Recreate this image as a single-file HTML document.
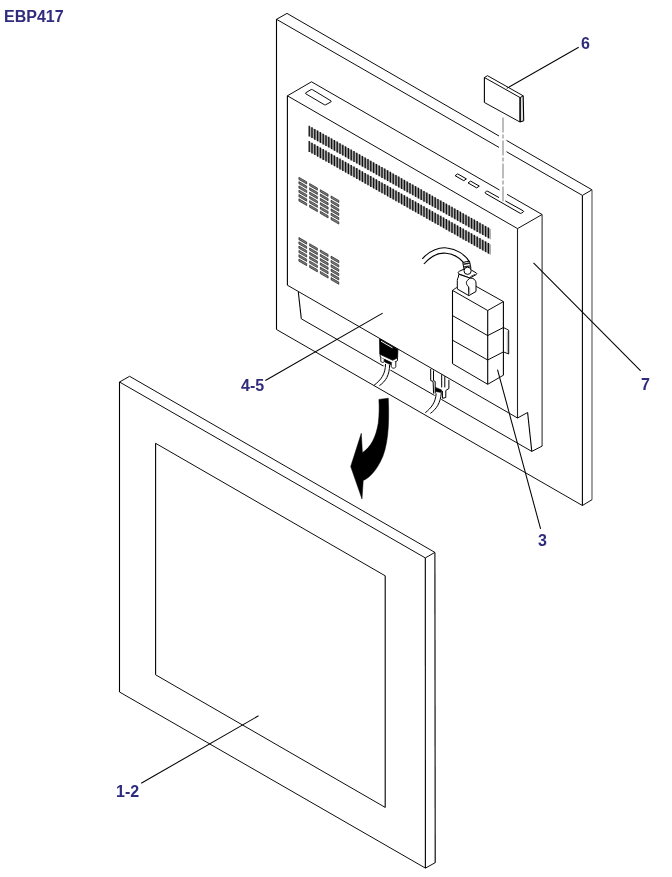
<!DOCTYPE html>
<html><head><meta charset="utf-8"><style>
html,body{margin:0;padding:0;background:#fff;}
body{width:672px;height:877px;position:relative;overflow:hidden;font-family:"Liberation Sans",sans-serif;}
svg{position:absolute;left:0;top:0;}
.lbl{position:absolute;font-weight:bold;font-size:16px;line-height:16px;color:#2f2b7d;white-space:nowrap;will-change:transform;}
</style></head><body>
<svg width="672" height="877" viewBox="0 0 672 877" stroke-linecap="butt">
<line x1="276.5" y1="19.3" x2="499.0" y2="147.4" stroke="#000" stroke-width="0.95" />
<line x1="506.5" y1="151.7" x2="582.4" y2="195.4" stroke="#000" stroke-width="0.95" />
<line x1="287.0" y1="13.4" x2="499.0" y2="136.0" stroke="#000" stroke-width="0.95" />
<line x1="506.5" y1="140.4" x2="592.0" y2="189.8" stroke="#000" stroke-width="0.95" />
<line x1="276.5" y1="19.3" x2="287.0" y2="13.4" stroke="#000" stroke-width="0.96" />
<line x1="582.4" y1="195.4" x2="592.0" y2="189.8" stroke="#000" stroke-width="0.95" />
<line x1="276.5" y1="19.3" x2="276.5" y2="329.5" stroke="#000" stroke-width="1.10" />
<line x1="582.4" y1="195.4" x2="582.4" y2="505.5" stroke="#000" stroke-width="1.10" />
<line x1="592.0" y1="189.8" x2="592.0" y2="499.7" stroke="#555" stroke-width="1.10" />
<line x1="582.4" y1="505.5" x2="592.0" y2="499.7" stroke="#000" stroke-width="0.94" />
<line x1="276.5" y1="329.5" x2="582.4" y2="505.5" stroke="#000" stroke-width="0.95" />
<line x1="287.4" y1="95.8" x2="517.5" y2="228.6" stroke="#000" stroke-width="0.95" />
<line x1="311.5" y1="81.8" x2="499.5" y2="190.0" stroke="#000" stroke-width="0.95" />
<line x1="507.0" y1="194.3" x2="542.1" y2="214.5" stroke="#000" stroke-width="0.95" />
<line x1="287.4" y1="95.8" x2="311.5" y2="81.8" stroke="#000" stroke-width="0.95" />
<line x1="517.5" y1="228.6" x2="542.1" y2="214.5" stroke="#000" stroke-width="0.95" />
<line x1="287.4" y1="95.8" x2="287.4" y2="285.2" stroke="#000" stroke-width="1.10" />
<line x1="517.5" y1="228.6" x2="517.5" y2="418.0" stroke="#222" stroke-width="1.10" />
<line x1="542.1" y1="214.5" x2="542.1" y2="446.0" stroke="#333" stroke-width="1.10" />
<line x1="287.4" y1="285.2" x2="517.5" y2="418.0" stroke="#000" stroke-width="0.95" />
<line x1="298.3" y1="292.0" x2="301.3" y2="318.8" stroke="#000" stroke-width="1.09" />
<line x1="301.3" y1="318.8" x2="531.8" y2="451.4" stroke="#000" stroke-width="0.95" />
<line x1="531.8" y1="451.4" x2="542.3" y2="446.0" stroke="#000" stroke-width="0.98" />
<line x1="517.5" y1="418.0" x2="527.6" y2="412.5" stroke="#000" stroke-width="0.97" />
<line x1="527.6" y1="412.5" x2="531.8" y2="451.4" stroke="#000" stroke-width="1.09" />
<path d="M305.6,92.9 L311.0,89.6 Q311.8,89.2 312.5,89.7 L331.0,100.9 Q331.5,101.5 330.8,102.0 L325.6,104.8 Q325.0,105.1 324.3,104.7 L305.8,93.8 Q305.2,93.3 305.6,92.9 Z" stroke="#000" stroke-width="0.95" fill="none" stroke-linejoin="round" />
<path d="M455.1,175.7 L457.7,173.9 L466.4,178.9 L463.8,180.7 Z" stroke="#000" stroke-width="1.0" fill="none" stroke-linejoin="round" />
<path d="M468.0,182.9 L470.6,181.1 L479.3,186.1 L476.7,187.9 Z" stroke="#000" stroke-width="1.0" fill="none" stroke-linejoin="round" />
<path d="M499.0,197.6 L487.8,191.3 Q487.0,190.9 486.3,191.4 L485.3,192.2 Q484.8,192.9 485.5,193.4 L520.2,213.3 Q520.8,213.6 521.4,213.2 L523.3,211.9 Q524.0,211.3 523.2,210.8 L505.3,200.9" stroke="#000" stroke-width="1.0" fill="none" stroke-linejoin="round" />
<polygon points="309.2,126.0 491.0,229.3 491.0,239.5 309.2,136.2" stroke="none" fill="#b0b0b0"/>
<line x1="309.2" y1="125.7" x2="309.2" y2="136.5" stroke="#111" stroke-width="1.35" />
<line x1="312.0" y1="127.3" x2="312.0" y2="138.1" stroke="#111" stroke-width="1.35" />
<line x1="314.8" y1="128.9" x2="314.8" y2="139.7" stroke="#111" stroke-width="1.35" />
<line x1="317.6" y1="130.5" x2="317.6" y2="141.3" stroke="#111" stroke-width="1.35" />
<line x1="320.4" y1="132.1" x2="320.4" y2="142.9" stroke="#111" stroke-width="1.35" />
<line x1="323.2" y1="133.7" x2="323.2" y2="144.5" stroke="#111" stroke-width="1.35" />
<line x1="326.0" y1="135.2" x2="326.0" y2="146.0" stroke="#111" stroke-width="1.35" />
<line x1="328.8" y1="136.8" x2="328.8" y2="147.6" stroke="#111" stroke-width="1.35" />
<line x1="331.6" y1="138.4" x2="331.6" y2="149.2" stroke="#111" stroke-width="1.35" />
<line x1="334.4" y1="140.0" x2="334.4" y2="150.8" stroke="#111" stroke-width="1.35" />
<line x1="337.2" y1="141.6" x2="337.2" y2="152.4" stroke="#111" stroke-width="1.35" />
<line x1="340.0" y1="143.2" x2="340.0" y2="154.0" stroke="#111" stroke-width="1.35" />
<line x1="342.8" y1="144.8" x2="342.8" y2="155.6" stroke="#111" stroke-width="1.35" />
<line x1="345.6" y1="146.4" x2="345.6" y2="157.2" stroke="#111" stroke-width="1.35" />
<line x1="348.4" y1="148.0" x2="348.4" y2="158.8" stroke="#111" stroke-width="1.35" />
<line x1="351.2" y1="149.6" x2="351.2" y2="160.4" stroke="#111" stroke-width="1.35" />
<line x1="354.0" y1="151.1" x2="354.0" y2="161.9" stroke="#111" stroke-width="1.35" />
<line x1="356.8" y1="152.7" x2="356.8" y2="163.5" stroke="#111" stroke-width="1.35" />
<line x1="359.6" y1="154.3" x2="359.6" y2="165.1" stroke="#111" stroke-width="1.35" />
<line x1="362.4" y1="155.9" x2="362.4" y2="166.7" stroke="#111" stroke-width="1.35" />
<line x1="365.2" y1="157.5" x2="365.2" y2="168.3" stroke="#111" stroke-width="1.35" />
<line x1="368.0" y1="159.1" x2="368.0" y2="169.9" stroke="#111" stroke-width="1.35" />
<line x1="370.8" y1="160.7" x2="370.8" y2="171.5" stroke="#111" stroke-width="1.35" />
<line x1="373.6" y1="162.3" x2="373.6" y2="173.1" stroke="#111" stroke-width="1.35" />
<line x1="376.4" y1="163.9" x2="376.4" y2="174.7" stroke="#111" stroke-width="1.35" />
<line x1="379.2" y1="165.5" x2="379.2" y2="176.3" stroke="#111" stroke-width="1.35" />
<line x1="382.0" y1="167.1" x2="382.0" y2="177.9" stroke="#111" stroke-width="1.35" />
<line x1="384.8" y1="168.6" x2="384.8" y2="179.4" stroke="#111" stroke-width="1.35" />
<line x1="387.6" y1="170.2" x2="387.6" y2="181.0" stroke="#111" stroke-width="1.35" />
<line x1="390.4" y1="171.8" x2="390.4" y2="182.6" stroke="#111" stroke-width="1.35" />
<line x1="393.2" y1="173.4" x2="393.2" y2="184.2" stroke="#111" stroke-width="1.35" />
<line x1="396.0" y1="175.0" x2="396.0" y2="185.8" stroke="#111" stroke-width="1.35" />
<line x1="398.8" y1="176.6" x2="398.8" y2="187.4" stroke="#111" stroke-width="1.35" />
<line x1="401.6" y1="178.2" x2="401.6" y2="189.0" stroke="#111" stroke-width="1.35" />
<line x1="404.4" y1="179.8" x2="404.4" y2="190.6" stroke="#111" stroke-width="1.35" />
<line x1="407.2" y1="181.4" x2="407.2" y2="192.2" stroke="#111" stroke-width="1.35" />
<line x1="410.0" y1="183.0" x2="410.0" y2="193.8" stroke="#111" stroke-width="1.35" />
<line x1="412.8" y1="184.5" x2="412.8" y2="195.3" stroke="#111" stroke-width="1.35" />
<line x1="415.6" y1="186.1" x2="415.6" y2="196.9" stroke="#111" stroke-width="1.35" />
<line x1="418.4" y1="187.7" x2="418.4" y2="198.5" stroke="#111" stroke-width="1.35" />
<line x1="421.2" y1="189.3" x2="421.2" y2="200.1" stroke="#111" stroke-width="1.35" />
<line x1="424.0" y1="190.9" x2="424.0" y2="201.7" stroke="#111" stroke-width="1.35" />
<line x1="426.8" y1="192.5" x2="426.8" y2="203.3" stroke="#111" stroke-width="1.35" />
<line x1="429.6" y1="194.1" x2="429.6" y2="204.9" stroke="#111" stroke-width="1.35" />
<line x1="432.4" y1="195.7" x2="432.4" y2="206.5" stroke="#111" stroke-width="1.35" />
<line x1="435.2" y1="197.3" x2="435.2" y2="208.1" stroke="#111" stroke-width="1.35" />
<line x1="438.0" y1="198.9" x2="438.0" y2="209.7" stroke="#111" stroke-width="1.35" />
<line x1="440.8" y1="200.4" x2="440.8" y2="211.2" stroke="#111" stroke-width="1.35" />
<line x1="443.6" y1="202.0" x2="443.6" y2="212.8" stroke="#111" stroke-width="1.35" />
<line x1="446.4" y1="203.6" x2="446.4" y2="214.4" stroke="#111" stroke-width="1.35" />
<line x1="449.2" y1="205.2" x2="449.2" y2="216.0" stroke="#111" stroke-width="1.35" />
<line x1="452.0" y1="206.8" x2="452.0" y2="217.6" stroke="#111" stroke-width="1.35" />
<line x1="454.8" y1="208.4" x2="454.8" y2="219.2" stroke="#111" stroke-width="1.35" />
<line x1="457.6" y1="210.0" x2="457.6" y2="220.8" stroke="#111" stroke-width="1.35" />
<line x1="460.4" y1="211.6" x2="460.4" y2="222.4" stroke="#111" stroke-width="1.35" />
<line x1="463.2" y1="213.2" x2="463.2" y2="224.0" stroke="#111" stroke-width="1.35" />
<line x1="466.0" y1="214.8" x2="466.0" y2="225.6" stroke="#111" stroke-width="1.35" />
<line x1="468.8" y1="216.4" x2="468.8" y2="227.2" stroke="#111" stroke-width="1.35" />
<line x1="471.6" y1="217.9" x2="471.6" y2="228.7" stroke="#111" stroke-width="1.35" />
<line x1="474.4" y1="219.5" x2="474.4" y2="230.3" stroke="#111" stroke-width="1.35" />
<line x1="477.2" y1="221.1" x2="477.2" y2="231.9" stroke="#111" stroke-width="1.35" />
<line x1="480.0" y1="222.7" x2="480.0" y2="233.5" stroke="#111" stroke-width="1.35" />
<line x1="482.8" y1="224.3" x2="482.8" y2="235.1" stroke="#111" stroke-width="1.35" />
<line x1="485.6" y1="225.9" x2="485.6" y2="236.7" stroke="#111" stroke-width="1.35" />
<line x1="488.4" y1="227.5" x2="488.4" y2="238.3" stroke="#111" stroke-width="1.35" />
<polygon points="309.2,141.4 491.0,244.7 491.0,254.9 309.2,151.6" stroke="none" fill="#b0b0b0"/>
<line x1="309.2" y1="141.1" x2="309.2" y2="151.9" stroke="#111" stroke-width="1.35" />
<line x1="312.0" y1="142.7" x2="312.0" y2="153.5" stroke="#111" stroke-width="1.35" />
<line x1="314.8" y1="144.3" x2="314.8" y2="155.1" stroke="#111" stroke-width="1.35" />
<line x1="317.6" y1="145.9" x2="317.6" y2="156.7" stroke="#111" stroke-width="1.35" />
<line x1="320.4" y1="147.5" x2="320.4" y2="158.3" stroke="#111" stroke-width="1.35" />
<line x1="323.2" y1="149.1" x2="323.2" y2="159.9" stroke="#111" stroke-width="1.35" />
<line x1="326.0" y1="150.6" x2="326.0" y2="161.4" stroke="#111" stroke-width="1.35" />
<line x1="328.8" y1="152.2" x2="328.8" y2="163.0" stroke="#111" stroke-width="1.35" />
<line x1="331.6" y1="153.8" x2="331.6" y2="164.6" stroke="#111" stroke-width="1.35" />
<line x1="334.4" y1="155.4" x2="334.4" y2="166.2" stroke="#111" stroke-width="1.35" />
<line x1="337.2" y1="157.0" x2="337.2" y2="167.8" stroke="#111" stroke-width="1.35" />
<line x1="340.0" y1="158.6" x2="340.0" y2="169.4" stroke="#111" stroke-width="1.35" />
<line x1="342.8" y1="160.2" x2="342.8" y2="171.0" stroke="#111" stroke-width="1.35" />
<line x1="345.6" y1="161.8" x2="345.6" y2="172.6" stroke="#111" stroke-width="1.35" />
<line x1="348.4" y1="163.4" x2="348.4" y2="174.2" stroke="#111" stroke-width="1.35" />
<line x1="351.2" y1="165.0" x2="351.2" y2="175.8" stroke="#111" stroke-width="1.35" />
<line x1="354.0" y1="166.5" x2="354.0" y2="177.3" stroke="#111" stroke-width="1.35" />
<line x1="356.8" y1="168.1" x2="356.8" y2="178.9" stroke="#111" stroke-width="1.35" />
<line x1="359.6" y1="169.7" x2="359.6" y2="180.5" stroke="#111" stroke-width="1.35" />
<line x1="362.4" y1="171.3" x2="362.4" y2="182.1" stroke="#111" stroke-width="1.35" />
<line x1="365.2" y1="172.9" x2="365.2" y2="183.7" stroke="#111" stroke-width="1.35" />
<line x1="368.0" y1="174.5" x2="368.0" y2="185.3" stroke="#111" stroke-width="1.35" />
<line x1="370.8" y1="176.1" x2="370.8" y2="186.9" stroke="#111" stroke-width="1.35" />
<line x1="373.6" y1="177.7" x2="373.6" y2="188.5" stroke="#111" stroke-width="1.35" />
<line x1="376.4" y1="179.3" x2="376.4" y2="190.1" stroke="#111" stroke-width="1.35" />
<line x1="379.2" y1="180.9" x2="379.2" y2="191.7" stroke="#111" stroke-width="1.35" />
<line x1="382.0" y1="182.5" x2="382.0" y2="193.3" stroke="#111" stroke-width="1.35" />
<line x1="384.8" y1="184.0" x2="384.8" y2="194.8" stroke="#111" stroke-width="1.35" />
<line x1="387.6" y1="185.6" x2="387.6" y2="196.4" stroke="#111" stroke-width="1.35" />
<line x1="390.4" y1="187.2" x2="390.4" y2="198.0" stroke="#111" stroke-width="1.35" />
<line x1="393.2" y1="188.8" x2="393.2" y2="199.6" stroke="#111" stroke-width="1.35" />
<line x1="396.0" y1="190.4" x2="396.0" y2="201.2" stroke="#111" stroke-width="1.35" />
<line x1="398.8" y1="192.0" x2="398.8" y2="202.8" stroke="#111" stroke-width="1.35" />
<line x1="401.6" y1="193.6" x2="401.6" y2="204.4" stroke="#111" stroke-width="1.35" />
<line x1="404.4" y1="195.2" x2="404.4" y2="206.0" stroke="#111" stroke-width="1.35" />
<line x1="407.2" y1="196.8" x2="407.2" y2="207.6" stroke="#111" stroke-width="1.35" />
<line x1="410.0" y1="198.4" x2="410.0" y2="209.2" stroke="#111" stroke-width="1.35" />
<line x1="412.8" y1="199.9" x2="412.8" y2="210.7" stroke="#111" stroke-width="1.35" />
<line x1="415.6" y1="201.5" x2="415.6" y2="212.3" stroke="#111" stroke-width="1.35" />
<line x1="418.4" y1="203.1" x2="418.4" y2="213.9" stroke="#111" stroke-width="1.35" />
<line x1="421.2" y1="204.7" x2="421.2" y2="215.5" stroke="#111" stroke-width="1.35" />
<line x1="424.0" y1="206.3" x2="424.0" y2="217.1" stroke="#111" stroke-width="1.35" />
<line x1="426.8" y1="207.9" x2="426.8" y2="218.7" stroke="#111" stroke-width="1.35" />
<line x1="429.6" y1="209.5" x2="429.6" y2="220.3" stroke="#111" stroke-width="1.35" />
<line x1="432.4" y1="211.1" x2="432.4" y2="221.9" stroke="#111" stroke-width="1.35" />
<line x1="435.2" y1="212.7" x2="435.2" y2="223.5" stroke="#111" stroke-width="1.35" />
<line x1="438.0" y1="214.3" x2="438.0" y2="225.1" stroke="#111" stroke-width="1.35" />
<line x1="440.8" y1="215.8" x2="440.8" y2="226.6" stroke="#111" stroke-width="1.35" />
<line x1="443.6" y1="217.4" x2="443.6" y2="228.2" stroke="#111" stroke-width="1.35" />
<line x1="446.4" y1="219.0" x2="446.4" y2="229.8" stroke="#111" stroke-width="1.35" />
<line x1="449.2" y1="220.6" x2="449.2" y2="231.4" stroke="#111" stroke-width="1.35" />
<line x1="452.0" y1="222.2" x2="452.0" y2="233.0" stroke="#111" stroke-width="1.35" />
<line x1="454.8" y1="223.8" x2="454.8" y2="234.6" stroke="#111" stroke-width="1.35" />
<line x1="457.6" y1="225.4" x2="457.6" y2="236.2" stroke="#111" stroke-width="1.35" />
<line x1="460.4" y1="227.0" x2="460.4" y2="237.8" stroke="#111" stroke-width="1.35" />
<line x1="463.2" y1="228.6" x2="463.2" y2="239.4" stroke="#111" stroke-width="1.35" />
<line x1="466.0" y1="230.2" x2="466.0" y2="241.0" stroke="#111" stroke-width="1.35" />
<line x1="468.8" y1="231.8" x2="468.8" y2="242.6" stroke="#111" stroke-width="1.35" />
<line x1="471.6" y1="233.3" x2="471.6" y2="244.1" stroke="#111" stroke-width="1.35" />
<line x1="474.4" y1="234.9" x2="474.4" y2="245.7" stroke="#111" stroke-width="1.35" />
<line x1="477.2" y1="236.5" x2="477.2" y2="247.3" stroke="#111" stroke-width="1.35" />
<line x1="480.0" y1="238.1" x2="480.0" y2="248.9" stroke="#111" stroke-width="1.35" />
<line x1="482.8" y1="239.7" x2="482.8" y2="250.5" stroke="#111" stroke-width="1.35" />
<line x1="485.6" y1="241.3" x2="485.6" y2="252.1" stroke="#111" stroke-width="1.35" />
<line x1="488.4" y1="242.9" x2="488.4" y2="253.7" stroke="#111" stroke-width="1.35" />
<polygon points="298.9,177.3 306.7,181.8 306.7,184.0 298.9,179.5" fill="#7a7a7a" stroke="#1a1a1a" stroke-width="0.65" stroke-linejoin="round"/>
<polygon points="298.9,181.6 306.7,186.1 306.7,188.3 298.9,183.8" fill="#7a7a7a" stroke="#1a1a1a" stroke-width="0.65" stroke-linejoin="round"/>
<polygon points="298.9,185.9 306.7,190.4 306.7,192.6 298.9,188.1" fill="#7a7a7a" stroke="#1a1a1a" stroke-width="0.65" stroke-linejoin="round"/>
<polygon points="298.9,190.2 306.7,194.7 306.7,196.9 298.9,192.4" fill="#7a7a7a" stroke="#1a1a1a" stroke-width="0.65" stroke-linejoin="round"/>
<polygon points="298.9,194.5 306.7,199.0 306.7,201.2 298.9,196.7" fill="#7a7a7a" stroke="#1a1a1a" stroke-width="0.65" stroke-linejoin="round"/>
<polygon points="298.9,198.8 306.7,203.3 306.7,205.5 298.9,201.0" fill="#7a7a7a" stroke="#1a1a1a" stroke-width="0.65" stroke-linejoin="round"/>
<polygon points="309.6,183.5 317.4,188.0 317.4,190.2 309.6,185.7" fill="#7a7a7a" stroke="#1a1a1a" stroke-width="0.65" stroke-linejoin="round"/>
<polygon points="309.6,187.8 317.4,192.3 317.4,194.5 309.6,190.0" fill="#7a7a7a" stroke="#1a1a1a" stroke-width="0.65" stroke-linejoin="round"/>
<polygon points="309.6,192.1 317.4,196.6 317.4,198.8 309.6,194.3" fill="#7a7a7a" stroke="#1a1a1a" stroke-width="0.65" stroke-linejoin="round"/>
<polygon points="309.6,196.4 317.4,200.9 317.4,203.1 309.6,198.6" fill="#7a7a7a" stroke="#1a1a1a" stroke-width="0.65" stroke-linejoin="round"/>
<polygon points="309.6,200.7 317.4,205.2 317.4,207.4 309.6,202.9" fill="#7a7a7a" stroke="#1a1a1a" stroke-width="0.65" stroke-linejoin="round"/>
<polygon points="309.6,205.0 317.4,209.5 317.4,211.7 309.6,207.2" fill="#7a7a7a" stroke="#1a1a1a" stroke-width="0.65" stroke-linejoin="round"/>
<polygon points="320.3,189.7 328.1,194.2 328.1,196.4 320.3,191.9" fill="#7a7a7a" stroke="#1a1a1a" stroke-width="0.65" stroke-linejoin="round"/>
<polygon points="320.3,194.0 328.1,198.5 328.1,200.7 320.3,196.2" fill="#7a7a7a" stroke="#1a1a1a" stroke-width="0.65" stroke-linejoin="round"/>
<polygon points="320.3,198.3 328.1,202.8 328.1,205.0 320.3,200.5" fill="#7a7a7a" stroke="#1a1a1a" stroke-width="0.65" stroke-linejoin="round"/>
<polygon points="320.3,202.6 328.1,207.1 328.1,209.3 320.3,204.8" fill="#7a7a7a" stroke="#1a1a1a" stroke-width="0.65" stroke-linejoin="round"/>
<polygon points="320.3,206.9 328.1,211.4 328.1,213.6 320.3,209.1" fill="#7a7a7a" stroke="#1a1a1a" stroke-width="0.65" stroke-linejoin="round"/>
<polygon points="320.3,211.2 328.1,215.7 328.1,217.9 320.3,213.4" fill="#7a7a7a" stroke="#1a1a1a" stroke-width="0.65" stroke-linejoin="round"/>
<polygon points="331.0,195.9 338.8,200.4 338.8,202.6 331.0,198.1" fill="#7a7a7a" stroke="#1a1a1a" stroke-width="0.65" stroke-linejoin="round"/>
<polygon points="331.0,200.2 338.8,204.7 338.8,206.9 331.0,202.4" fill="#7a7a7a" stroke="#1a1a1a" stroke-width="0.65" stroke-linejoin="round"/>
<polygon points="331.0,204.5 338.8,209.0 338.8,211.2 331.0,206.7" fill="#7a7a7a" stroke="#1a1a1a" stroke-width="0.65" stroke-linejoin="round"/>
<polygon points="331.0,208.8 338.8,213.3 338.8,215.5 331.0,211.0" fill="#7a7a7a" stroke="#1a1a1a" stroke-width="0.65" stroke-linejoin="round"/>
<polygon points="331.0,213.1 338.8,217.6 338.8,219.8 331.0,215.3" fill="#7a7a7a" stroke="#1a1a1a" stroke-width="0.65" stroke-linejoin="round"/>
<polygon points="331.0,217.4 338.8,221.9 338.8,224.1 331.0,219.6" fill="#7a7a7a" stroke="#1a1a1a" stroke-width="0.65" stroke-linejoin="round"/>
<polygon points="298.9,237.5 306.7,242.0 306.7,244.2 298.9,239.7" fill="#7a7a7a" stroke="#1a1a1a" stroke-width="0.65" stroke-linejoin="round"/>
<polygon points="298.9,241.8 306.7,246.3 306.7,248.5 298.9,244.0" fill="#7a7a7a" stroke="#1a1a1a" stroke-width="0.65" stroke-linejoin="round"/>
<polygon points="298.9,246.1 306.7,250.6 306.7,252.8 298.9,248.3" fill="#7a7a7a" stroke="#1a1a1a" stroke-width="0.65" stroke-linejoin="round"/>
<polygon points="298.9,250.4 306.7,254.9 306.7,257.1 298.9,252.6" fill="#7a7a7a" stroke="#1a1a1a" stroke-width="0.65" stroke-linejoin="round"/>
<polygon points="298.9,254.7 306.7,259.2 306.7,261.4 298.9,256.9" fill="#7a7a7a" stroke="#1a1a1a" stroke-width="0.65" stroke-linejoin="round"/>
<polygon points="298.9,259.0 306.7,263.5 306.7,265.7 298.9,261.2" fill="#7a7a7a" stroke="#1a1a1a" stroke-width="0.65" stroke-linejoin="round"/>
<polygon points="309.6,243.7 317.4,248.2 317.4,250.4 309.6,245.9" fill="#7a7a7a" stroke="#1a1a1a" stroke-width="0.65" stroke-linejoin="round"/>
<polygon points="309.6,248.0 317.4,252.5 317.4,254.7 309.6,250.2" fill="#7a7a7a" stroke="#1a1a1a" stroke-width="0.65" stroke-linejoin="round"/>
<polygon points="309.6,252.3 317.4,256.8 317.4,259.0 309.6,254.5" fill="#7a7a7a" stroke="#1a1a1a" stroke-width="0.65" stroke-linejoin="round"/>
<polygon points="309.6,256.6 317.4,261.1 317.4,263.3 309.6,258.8" fill="#7a7a7a" stroke="#1a1a1a" stroke-width="0.65" stroke-linejoin="round"/>
<polygon points="309.6,260.9 317.4,265.4 317.4,267.6 309.6,263.1" fill="#7a7a7a" stroke="#1a1a1a" stroke-width="0.65" stroke-linejoin="round"/>
<polygon points="309.6,265.2 317.4,269.7 317.4,271.9 309.6,267.4" fill="#7a7a7a" stroke="#1a1a1a" stroke-width="0.65" stroke-linejoin="round"/>
<polygon points="320.3,249.9 328.1,254.4 328.1,256.6 320.3,252.1" fill="#7a7a7a" stroke="#1a1a1a" stroke-width="0.65" stroke-linejoin="round"/>
<polygon points="320.3,254.2 328.1,258.7 328.1,260.9 320.3,256.4" fill="#7a7a7a" stroke="#1a1a1a" stroke-width="0.65" stroke-linejoin="round"/>
<polygon points="320.3,258.5 328.1,263.0 328.1,265.2 320.3,260.7" fill="#7a7a7a" stroke="#1a1a1a" stroke-width="0.65" stroke-linejoin="round"/>
<polygon points="320.3,262.8 328.1,267.3 328.1,269.5 320.3,265.0" fill="#7a7a7a" stroke="#1a1a1a" stroke-width="0.65" stroke-linejoin="round"/>
<polygon points="320.3,267.1 328.1,271.6 328.1,273.8 320.3,269.3" fill="#7a7a7a" stroke="#1a1a1a" stroke-width="0.65" stroke-linejoin="round"/>
<polygon points="320.3,271.4 328.1,275.9 328.1,278.1 320.3,273.6" fill="#7a7a7a" stroke="#1a1a1a" stroke-width="0.65" stroke-linejoin="round"/>
<polygon points="331.0,256.1 338.8,260.6 338.8,262.8 331.0,258.3" fill="#7a7a7a" stroke="#1a1a1a" stroke-width="0.65" stroke-linejoin="round"/>
<polygon points="331.0,260.4 338.8,264.9 338.8,267.1 331.0,262.6" fill="#7a7a7a" stroke="#1a1a1a" stroke-width="0.65" stroke-linejoin="round"/>
<polygon points="331.0,264.7 338.8,269.2 338.8,271.4 331.0,266.9" fill="#7a7a7a" stroke="#1a1a1a" stroke-width="0.65" stroke-linejoin="round"/>
<polygon points="331.0,269.0 338.8,273.5 338.8,275.7 331.0,271.2" fill="#7a7a7a" stroke="#1a1a1a" stroke-width="0.65" stroke-linejoin="round"/>
<polygon points="331.0,273.3 338.8,277.8 338.8,280.0 331.0,275.5" fill="#7a7a7a" stroke="#1a1a1a" stroke-width="0.65" stroke-linejoin="round"/>
<polygon points="331.0,277.6 338.8,282.1 338.8,284.3 331.0,279.8" fill="#7a7a7a" stroke="#1a1a1a" stroke-width="0.65" stroke-linejoin="round"/>
<path d="M422.3,258.8 C430,250 440,247 447,248 C456,249 465,254 469.5,262.0" stroke="#000" stroke-width="1.1" fill="none" stroke-linejoin="round" />
<path d="M423.9,264.0 C431,256 439,252.5 446,253.3 C453,254 459,257 463.4,262.4" stroke="#000" stroke-width="1.1" fill="none" stroke-linejoin="round" />
<polygon points="476.0,286.3 503.4,301.6 503.4,375.2 487.7,384.3 452.5,363.7 452.5,290.4 456.8,287.4" stroke="none" fill="#fff"/>
<line x1="476.0" y1="286.3" x2="503.4" y2="301.6" stroke="#000" stroke-width="0.96" />
<line x1="503.4" y1="301.6" x2="503.4" y2="375.2" stroke="#000" stroke-width="1.10" />
<line x1="503.4" y1="375.2" x2="487.7" y2="384.3" stroke="#000" stroke-width="0.95" />
<line x1="487.7" y1="384.3" x2="452.5" y2="363.7" stroke="#000" stroke-width="0.95" />
<line x1="452.5" y1="363.7" x2="452.5" y2="290.4" stroke="#000" stroke-width="1.10" />
<line x1="452.5" y1="290.4" x2="456.8" y2="287.4" stroke="#000" stroke-width="0.90" />
<line x1="452.5" y1="290.4" x2="487.7" y2="310.5" stroke="#000" stroke-width="0.96" />
<line x1="487.7" y1="310.5" x2="503.4" y2="301.6" stroke="#000" stroke-width="0.96" />
<line x1="487.7" y1="310.5" x2="487.7" y2="384.3" stroke="#000" stroke-width="1.10" />
<line x1="452.5" y1="315.6" x2="487.7" y2="335.6" stroke="#000" stroke-width="0.96" />
<line x1="487.7" y1="335.6" x2="503.4" y2="327.5" stroke="#000" stroke-width="0.98" />
<line x1="452.5" y1="340.2" x2="487.7" y2="360.0" stroke="#000" stroke-width="0.96" />
<line x1="487.7" y1="360.0" x2="503.4" y2="351.9" stroke="#000" stroke-width="0.98" />
<line x1="503.4" y1="327.5" x2="508.7" y2="330.2" stroke="#000" stroke-width="0.89" />
<line x1="508.7" y1="330.2" x2="508.7" y2="354.0" stroke="#000" stroke-width="1.00" />
<line x1="508.7" y1="354.0" x2="503.4" y2="351.9" stroke="#000" stroke-width="0.93" />
<line x1="507.3" y1="331.2" x2="507.3" y2="353.2" stroke="#999" stroke-width="0.80" />
<path d="M462.8,262.6 C465,261.8 467.5,261.3 469.5,261.2 L471.0,268.5 L464.2,270.0 Z" stroke="#000" stroke-width="1.0" fill="#fff" stroke-linejoin="round" />
<line x1="463.3" y1="264.2" x2="470.0" y2="263.0" stroke="#222" stroke-width="1.48" />
<line x1="463.8" y1="267.0" x2="470.6" y2="265.8" stroke="#333" stroke-width="1.28" />
<path d="M458.6,273.6 C457.8,272.8 458.2,271.8 459.3,271.3 L464.2,269.0 L471.6,270.2 L476.2,272.9 C477.0,273.5 476.8,274.3 476.0,274.7 L469.8,278.0 L459.2,274.0 Z" stroke="#000" stroke-width="1.0" fill="#fff" stroke-linejoin="round" />
<circle cx="467.6" cy="270.8" r="3.6" fill="#fff" stroke="#000" stroke-width="1.0"/>
<line x1="470.4" y1="276.5" x2="475.2" y2="274.2" stroke="#333" stroke-width="0.81" />
<path d="M458.8,274.3 L458.4,277.0 C457.6,278.2 457.3,279.2 457.3,280.6 L457.3,289.0 L468.8,295.6 L476.0,291.5 L476.0,283.1 C476.0,281.0 474.5,279.2 472.9,278.4 L469.8,278.0 Z" stroke="#000" stroke-width="1.0" fill="#fff" stroke-linejoin="round" />
<path d="M469.8,278.0 L467.3,280.6 C465.7,282.2 466.2,284.6 468.6,286.9 L468.8,295.6" stroke="#000" stroke-width="1.0" fill="none" stroke-linejoin="round" />
<line x1="469.6" y1="287.5" x2="469.6" y2="294.8" stroke="#aaa" stroke-width="1.20" />
<line x1="383.6" y1="366.1" x2="390.4" y2="370.1" stroke="#fff" stroke-width="2.08" />
<line x1="434.6" y1="395.5" x2="441.4" y2="399.4" stroke="#fff" stroke-width="2.08" />
<path d="M379.6,339.0 L397.9,349.4 L397.6,357.5 L392.7,360.0 L379.8,353.9 Z" stroke="#000" stroke-width="0.8" fill="#000" stroke-linejoin="round" />
<line x1="381.0" y1="341.2" x2="392.5" y2="347.9" stroke="#fff" stroke-width="0.95" />
<path d="M380.0,354.2 L392.7,360.2 L397.5,357.8 L397.5,360.6 L392.7,363.3 L380.4,357.6 Z" stroke="#000" stroke-width="0.9" fill="#fff" stroke-linejoin="round" />
<path d="M380.8,357.6 L380.8,361.2 C381.2,362.6 383.6,362.9 384.2,361.6 L384.2,359.3" stroke="#000" stroke-width="0.9" fill="#fff" stroke-linejoin="round" />
<path d="M384.6,359.5 L391.6,362.9 L391.4,365.0 L384.7,362.0 Z" stroke="#000" stroke-width="0.6" fill="#000" stroke-linejoin="round" />
<path d="M391.2,363.0 L391.2,366.5 C391.6,368.6 395.5,368.8 395.8,366.6 L395.8,361.0" stroke="#000" stroke-width="0.9" fill="#fff" stroke-linejoin="round" />
<path d="M385.5,364.0 C385.5,374 381,380 373.9,385.4" stroke="#000" stroke-width="1.0" fill="none" stroke-linejoin="round" />
<path d="M389.6,364.8 C389.5,375 386,381 379.4,385.7" stroke="#000" stroke-width="1.0" fill="none" stroke-linejoin="round" />
<path d="M430.7,368.9 L430.7,380.5 L433.1,381.5 L433.6,393.5" stroke="#000" stroke-width="1.0" fill="none" stroke-linejoin="round" />
<path d="M433.5,370.5 L433.5,380.5 L435.2,381.5 L435.2,393.5" stroke="#000" stroke-width="1.0" fill="none" stroke-linejoin="round" />
<path d="M441.7,374.4 L441.7,387.4 M444.8,376.2 L444.8,387.4 M448.9,379.8 L448.9,388.5 L445.8,390.5 L445.8,397.5 L442.5,398.3 L442.4,391" stroke="#000" stroke-width="1.0" fill="none" stroke-linejoin="round" />
<path d="M435.5,387.4 L441.7,390.0 L441.5,392.5 L435.5,391.5 Z" stroke="#000" stroke-width="0.6" fill="#000" stroke-linejoin="round" />
<path d="M436.2,393.5 C435.5,403 431,408 425.3,412.7" stroke="#000" stroke-width="1.0" fill="none" stroke-linejoin="round" />
<path d="M441.3,392.8 C440.5,403 436.5,409 430.4,413.4" stroke="#000" stroke-width="1.0" fill="none" stroke-linejoin="round" />
<polygon points="520.1,97.6 523.2,95.8 523.7,120.8 520.1,122.1" stroke="none" fill="#ddd"/>
<line x1="520.1" y1="97.6" x2="523.2" y2="95.8" stroke="#000" stroke-width="0.95" />
<line x1="523.2" y1="95.8" x2="523.7" y2="120.8" stroke="#000" stroke-width="1.10" />
<line x1="523.7" y1="120.8" x2="520.1" y2="122.1" stroke="#000" stroke-width="1.03" />
<line x1="520.1" y1="122.1" x2="520.1" y2="97.6" stroke="#000" stroke-width="1.10" />
<line x1="484.4" y1="102.5" x2="484.4" y2="77.5" stroke="#000" stroke-width="1.10" />
<line x1="484.4" y1="77.5" x2="520.1" y2="97.6" stroke="#000" stroke-width="0.96" />
<line x1="520.1" y1="97.6" x2="520.1" y2="122.1" stroke="#000" stroke-width="1.10" />
<line x1="520.1" y1="122.1" x2="484.4" y2="102.5" stroke="#000" stroke-width="0.96" />
<line x1="484.4" y1="77.5" x2="487.5" y2="75.7" stroke="#000" stroke-width="0.95" />
<line x1="487.5" y1="75.7" x2="523.2" y2="95.8" stroke="#000" stroke-width="0.96" />
<line x1="503.0" y1="117.4" x2="503.0" y2="201.2" stroke="#999" stroke-width="1.30" stroke-dasharray="15 2 4 2"/>
<path d="M378.9,399.4 L388.3,398.2 C389.5,425 388,448 380.2,462 C375,472 369,478 363.2,480.5 L362.0,499.0 L350.7,466.5 L361.3,433.3 L362.4,452.7 C371,447 376,437 378.3,423 C379.3,415 379.3,407 378.9,399.4 Z" stroke="#000" stroke-width="0.5" fill="#000" stroke-linejoin="round" />
<line x1="119.5" y1="382.0" x2="425.3" y2="557.9" stroke="#000" stroke-width="0.95" />
<line x1="425.3" y1="557.9" x2="425.4" y2="868.1" stroke="#000" stroke-width="1.10" />
<line x1="425.4" y1="868.1" x2="119.5" y2="692.0" stroke="#000" stroke-width="0.95" />
<line x1="119.5" y1="692.0" x2="119.5" y2="382.0" stroke="#000" stroke-width="1.10" />
<line x1="119.5" y1="382.0" x2="129.6" y2="376.3" stroke="#000" stroke-width="0.96" />
<line x1="129.6" y1="376.3" x2="434.9" y2="552.4" stroke="#000" stroke-width="0.95" />
<line x1="434.9" y1="552.4" x2="435.2" y2="862.7" stroke="#000" stroke-width="1.10" />
<line x1="435.2" y1="862.7" x2="425.4" y2="868.1" stroke="#000" stroke-width="0.96" />
<line x1="425.3" y1="557.9" x2="434.9" y2="552.4" stroke="#000" stroke-width="0.95" />
<line x1="155.6" y1="443.3" x2="385.2" y2="575.8" stroke="#000" stroke-width="0.95" />
<line x1="385.2" y1="575.8" x2="385.2" y2="807.4" stroke="#000" stroke-width="1.10" />
<line x1="385.2" y1="807.4" x2="155.6" y2="674.8" stroke="#000" stroke-width="0.95" />
<line x1="155.6" y1="674.8" x2="155.6" y2="443.3" stroke="#000" stroke-width="1.10" />
<line x1="506.7" y1="88.4" x2="578.7" y2="47.2" stroke="#000" stroke-width="1.05" />
<line x1="533.5" y1="262.9" x2="640.7" y2="370.8" stroke="#000" stroke-width="1.05" />
<line x1="265.4" y1="380.5" x2="382.7" y2="313.1" stroke="#000" stroke-width="1.05" />
<line x1="497.5" y1="369.6" x2="540.6" y2="528.9" stroke="#000" stroke-width="1.05" />
<line x1="141.2" y1="783.3" x2="258.5" y2="715.8" stroke="#000" stroke-width="1.05" />
</svg>

<div class="lbl" style="left:4px;top:9px">EBP417</div>
<div class="lbl" style="left:580.5px;top:36px">6</div>
<div class="lbl" style="left:641px;top:377px">7</div>
<div class="lbl" style="left:240.5px;top:378px">4-5</div>
<div class="lbl" style="left:538px;top:533px">3</div>
<div class="lbl" style="left:115.5px;top:784px">1-2</div>

</body></html>
